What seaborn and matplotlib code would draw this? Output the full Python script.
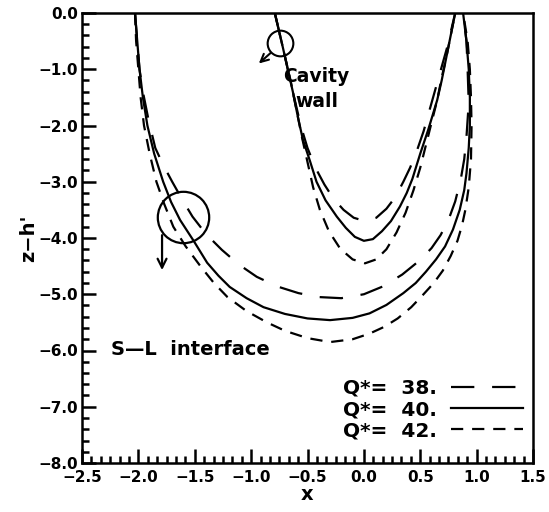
import numpy as np
import pandas as pd
import matplotlib
matplotlib.use("Agg")
import matplotlib.pyplot as plt
from matplotlib.ticker import MultipleLocator, FuncFormatter
from matplotlib.lines import Line2D
import seaborn as sns

# ---- data ----
q_labels = ["38.", "40.", "42."]

# S-L interface (outer curves)
outer38_x = [-2.03, -2.01, -1.99, -1.96, -1.91, -1.85, -1.78, -1.70, -1.61, -1.52, -1.40, -1.26, -1.11, -0.95, -0.77, -0.58, -0.40, -0.20, 0.00, 0.17, 0.34, 0.50, 0.60, 0.68, 0.75, 0.81, 0.86, 0.89, 0.91, 0.93, 0.92, 0.91, 0.88]
outer38_y = [0.0, -0.5, -1.0, -1.4, -1.9, -2.4, -2.7, -3.0, -3.32, -3.62, -3.93, -4.21, -4.47, -4.69, -4.86, -4.98, -5.05, -5.07, -5.0, -4.86, -4.65, -4.39, -4.18, -3.95, -3.68, -3.35, -2.95, -2.6, -2.2, -1.6, -1.0, -0.5, 0.0]

outer40_x = [-2.03, -2.01, -1.99, -1.96, -1.92, -1.86, -1.78, -1.71, -1.63, -1.51, -1.39, -1.29, -1.19, -1.04, -0.89, -0.70, -0.50, -0.30, -0.10, 0.05, 0.20, 0.35, 0.46, 0.55, 0.64, 0.72, 0.79, 0.85, 0.89, 0.91, 0.93, 0.94, 0.94, 0.93, 0.91, 0.88]
outer40_y = [0.0, -0.5, -1.0, -1.5, -2.0, -2.5, -3.0, -3.36, -3.68, -4.05, -4.44, -4.67, -4.87, -5.07, -5.23, -5.35, -5.43, -5.46, -5.42, -5.34, -5.19, -4.98, -4.80, -4.60, -4.38, -4.15, -3.85, -3.5, -3.15, -2.85, -2.4, -2.0, -1.5, -1.0, -0.5, 0.0]

outer42_x = [-2.03, -2.02, -2.00, -1.98, -1.95, -1.90, -1.84, -1.77, -1.69, -1.58, -1.45, -1.33, -1.21, -1.04, -0.86, -0.70, -0.50, -0.30, -0.10, 0.05, 0.18, 0.30, 0.42, 0.52, 0.62, 0.70, 0.77, 0.83, 0.87, 0.90, 0.93, 0.95, 0.955, 0.95, 0.94, 0.92, 0.88]
outer42_y = [0.0, -0.5, -1.0, -1.5, -2.0, -2.5, -3.0, -3.4, -3.8, -4.15, -4.5, -4.8, -5.05, -5.3, -5.5, -5.65, -5.78, -5.85, -5.80, -5.70, -5.58, -5.43, -5.23, -5.02, -4.80, -4.58, -4.32, -4.05, -3.78, -3.5, -3.1, -2.6, -2.0, -1.5, -1.0, -0.5, 0.0]

# Cavity wall (inner curves)
inner38_x = [-0.79, -0.72, -0.63, -0.56, -0.50, -0.43, -0.35, -0.27, -0.18, -0.09, 0.01, 0.11, 0.20, 0.28, 0.35, 0.41, 0.47, 0.53, 0.60, 0.67, 0.74, 0.81]
inner38_y = [0.0, -0.6, -1.4, -2.0, -2.4, -2.75, -3.05, -3.3, -3.5, -3.64, -3.70, -3.64, -3.48, -3.27, -3.0, -2.75, -2.45, -2.1, -1.6, -1.1, -0.6, 0.0]

inner40_x = [-0.79, -0.755, -0.72, -0.675, -0.63, -0.585, -0.54, -0.48, -0.42, -0.34, -0.24, -0.16, -0.08, 0.00, 0.08, 0.16, 0.24, 0.32, 0.38, 0.43, 0.50, 0.57, 0.65, 0.69, 0.73, 0.77, 0.81]
inner40_y = [0.0, -0.3, -0.6, -1.0, -1.4, -1.85, -2.26, -2.62, -3.0, -3.33, -3.62, -3.82, -3.98, -4.05, -4.02, -3.88, -3.7, -3.44, -3.2, -2.95, -2.5, -2.08, -1.55, -1.2, -0.8, -0.4, 0.0]

inner42_x = [-0.79, -0.72, -0.65, -0.60, -0.55, -0.50, -0.45, -0.39, -0.31, -0.21, -0.10, 0.01, 0.11, 0.20, 0.29, 0.37, 0.44, 0.50, 0.55, 0.60, 0.65, 0.69, 0.73, 0.77, 0.81]
inner42_y = [0.0, -0.6, -1.2, -1.7, -2.2, -2.65, -3.1, -3.5, -3.88, -4.19, -4.38, -4.45, -4.38, -4.2, -3.9, -3.55, -3.15, -2.75, -2.35, -1.95, -1.55, -1.15, -0.8, -0.4, 0.0]

x_ticks = [-2.5, -2.0, -1.5, -1.0, -0.5, 0.0, 0.5, 1.0, 1.5]
y_ticks = [0.0, -1.0, -2.0, -3.0, -4.0, -5.0, -6.0, -7.0, -8.0]

# ---- build table ----
curves = [
    ("38.", "outer", outer38_x, outer38_y),
    ("40.", "outer", outer40_x, outer40_y),
    ("42.", "outer", outer42_x, outer42_y),
    ("38.", "inner", inner38_x, inner38_y),
    ("40.", "inner", inner40_x, inner40_y),
    ("42.", "inner", inner42_x, inner42_y),
]
rows = []
for q, part, xs, ys in curves:
    for xv, yv in zip(xs, ys):
        rows.append({"Q": q, "part": q + part, "x": xv, "y": yv})
df = pd.DataFrame(rows)

LW = 1.6
dash_map = {"38.": (10.5, 8.0), "40.": "", "42.": (5.5, 4.0)}

fig = plt.figure(figsize=(5.49, 5.12), dpi=100)
ax = fig.add_axes([82 / 549, 1 - 463 / 512, (533 - 82) / 549, (463 - 13) / 512])

sns.lineplot(data=df, x="x", y="y", style="Q", units="part", estimator=None,
             sort=False, color="black", dashes=dash_map, linewidth=LW,
             legend=False, ax=ax)
for ln in ax.get_lines():
    ln.set_solid_joinstyle("round")
    ln.set_dash_joinstyle("round")

ax.set_xlim(-2.5, 1.5)
ax.set_ylim(-8.0, 0.0)
ax.set_xticks(x_ticks)
ax.set_yticks(y_ticks)
fmt = FuncFormatter(lambda v, p: ("%.1f" % v).replace("-", "\u2212") if abs(v) > 1e-9 else "0.0")
ax.xaxis.set_major_formatter(fmt)
ax.yaxis.set_major_formatter(fmt)
ax.xaxis.set_minor_locator(MultipleLocator(1 / 12))
ax.yaxis.set_minor_locator(MultipleLocator(0.2))
ax.tick_params(which="both", direction="in", top=False, right=False, width=1.8, colors="black")
ax.tick_params(which="major", length=10)
ax.tick_params(axis="y", which="major", pad=3)
ax.tick_params(axis="x", which="major", pad=5)
ax.tick_params(which="minor", length=5)
for lab in ax.get_xticklabels() + ax.get_yticklabels():
    lab.set_fontfamily("DejaVu Sans")
    lab.set_fontweight("bold")
    lab.set_fontsize(11)
for s in ax.spines.values():
    s.set_linewidth(1.8)
    s.set_color("black")

ax.set_xlabel("x", fontsize=14, fontweight="bold", labelpad=0)
ax.set_ylabel("z\u2212h'", fontsize=14, fontweight="bold", labelpad=0)

# annotations: circles and arrows
ax.plot([-0.74], [-0.53], marker="o", markersize=18.5, markerfacecolor="none",
        markeredgecolor="black", markeredgewidth=1.5, linestyle="none")
ax.annotate("", xy=(-0.95, -0.93), xytext=(-0.81, -0.68),
            arrowprops=dict(arrowstyle="->", lw=1.5, color="black", mutation_scale=14))
ax.plot([-1.6], [-3.62], marker="o", markersize=37, markerfacecolor="none",
        markeredgecolor="black", markeredgewidth=1.6, linestyle="none")
ax.annotate("", xy=(-1.79, -4.62), xytext=(-1.79, -3.9),
            arrowprops=dict(arrowstyle="->", lw=1.6, color="black", mutation_scale=16))

ax.text(-0.42, -1.12, "Cavity", fontsize=13.5, fontweight="bold", ha="center", va="center", fontfamily="DejaVu Sans")
ax.text(-0.42, -1.57, "wall", fontsize=13.5, fontweight="bold", ha="center", va="center", fontfamily="DejaVu Sans")
ax.text(-2.24, -5.98, "S\u2014L  interface", fontsize=14, fontweight="bold", ha="left", va="center", fontfamily="DejaVu Sans")

handles = [Line2D([0], [0], color="black", lw=LW, dashes=dash_map["38."]),
           Line2D([0], [0], color="black", lw=LW),
           Line2D([0], [0], color="black", lw=LW, dashes=dash_map["42."])]
labels = ["Q*=  " + q for q in q_labels]
leg = ax.legend(handles, labels, loc="lower right", bbox_to_anchor=(0.978, 0.05),
                frameon=False, markerfirst=False, handlelength=3.6, handletextpad=0.7,
                labelspacing=0.12, borderpad=0, borderaxespad=0,
                prop={"family": "DejaVu Sans", "size": 14.5, "weight": "bold"})

fig.savefig("out.png", dpi=100)
